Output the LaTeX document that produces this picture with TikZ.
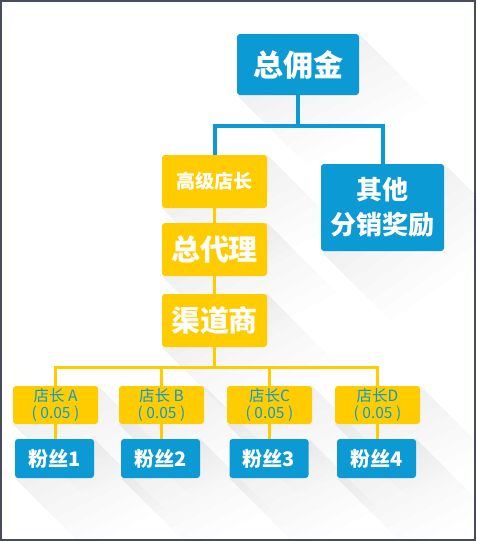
\documentclass[tikz,border=0pt]{standalone}
\usepackage{fontspec}
\setmainfont{Noto Sans CJK SC}
\usetikzlibrary{backgrounds}
\definecolor{boxblue}{HTML}{0B9AD3}
\definecolor{boxyellow}{HTML}{FFCC00}
\definecolor{framegray}{HTML}{474B5A}

\begin{document}
\begin{tikzpicture}[x=1pt,y=-1pt,
  bluebox/.style={fill=boxblue,text=white,rounded corners=3pt,inner sep=0pt},
  yellowbox/.style={fill=boxyellow,text=white,rounded corners=3pt,inner sep=0pt},
  shopbox/.style={yellowbox,text=boxblue,minimum width=85pt,minimum height=38pt,align=center,font=\fontsize{15.5}{16.5}\selectfont},
  fanbox/.style={bluebox,minimum width=79pt,minimum height=39pt,font=\fontsize{20}{24}\selectfont\bfseries},
  bline/.style={draw=boxblue,line width=4pt},
  yline/.style={draw=boxyellow,line width=3pt}]
\useasboundingbox (0,0) rectangle (477,542);
\draw[framegray,line width=2pt] (1,1) rectangle (475,540);

\node[bluebox,minimum width=122pt,minimum height=61pt,font=\fontsize{30}{36}\selectfont\bfseries] (total) at (298,64.5) {总佣金};
\node[bluebox,minimum width=123pt,minimum height=87pt,align=center,font=\fontsize{26}{35}\selectfont\bfseries] (other) at (382.5,207.5) {其他\\分销奖励};
\node[yellowbox,minimum width=105pt,minimum height=53pt,font=\fontsize{19}{24}\selectfont\bfseries] (gaoji) at (214.5,181.5) {高级店长};
\node[yellowbox,minimum width=105pt,minimum height=53pt,font=\fontsize{29}{34}\selectfont\bfseries] (zongdaili) at (214.5,249.5) {总代理};
\node[yellowbox,minimum width=105pt,minimum height=53pt,font=\fontsize{29}{34}\selectfont\bfseries] (qudao) at (214.5,320.5) {渠道商};

\node[shopbox] (shopA) at (55.5,405) {店长 A\\( 0.05 )};
\node[shopbox] (shopB) at (161.5,405) {店长 B\\( 0.05 )};
\node[shopbox] (shopC) at (269.5,405) {店长C\\( 0.05 )};
\node[shopbox] (shopD) at (377.5,405) {店长D\\( 0.05 )};
\node[fanbox] (fanA) at (54.5,458.5) {粉丝1};
\node[fanbox] (fanB) at (160.5,458.5) {粉丝2};
\node[fanbox] (fanC) at (269,458.5) {粉丝3};
\node[fanbox] (fanD) at (376.5,458.5) {粉丝4};

\begin{pgfonlayer}{background}
\foreach \n in {total,other,gaoji,zongdaili,qudao,shopA,shopB,shopC,shopD,fanA,fanB,fanC,fanD}
  \foreach \l in {10,20,...,70}
    \fill[black,fill opacity=0.009] (\n.north east) -- ++(\l,\l) -- ([shift={(\l,\l)}]\n.south west) -- (\n.south west) -- cycle;
\end{pgfonlayer}

\coordinate (topsplit) at (298,126);
\draw[bline] (total.south) -- (topsplit);
\draw[bline] (gaoji.north) |- (topsplit) -| (other.north);
\draw[yline] (gaoji.south) -- (zongdaili.north);
\draw[yline] (zongdaili.south) -- (qudao.north);
\coordinate (shopsplit) at (214.5,367);
\draw[yline] (qudao.south) -- (shopsplit);
\draw[yline] (shopA.north) |- (shopsplit) -| (shopD.north);
\draw[yline] (shopB.north) -- (shopB.north |- shopsplit);
\draw[yline] (shopC.north) -- (shopC.north |- shopsplit);
\draw[yline] (shopA.south) -- (shopA.south |- fanA.north);
\draw[yline] (shopB.south) -- (shopB.south |- fanB.north);
\draw[yline] (shopC.south) -- (shopC.south |- fanC.north);
\draw[yline] (shopD.south) -- (shopD.south |- fanD.north);

\end{tikzpicture}
\end{document}
